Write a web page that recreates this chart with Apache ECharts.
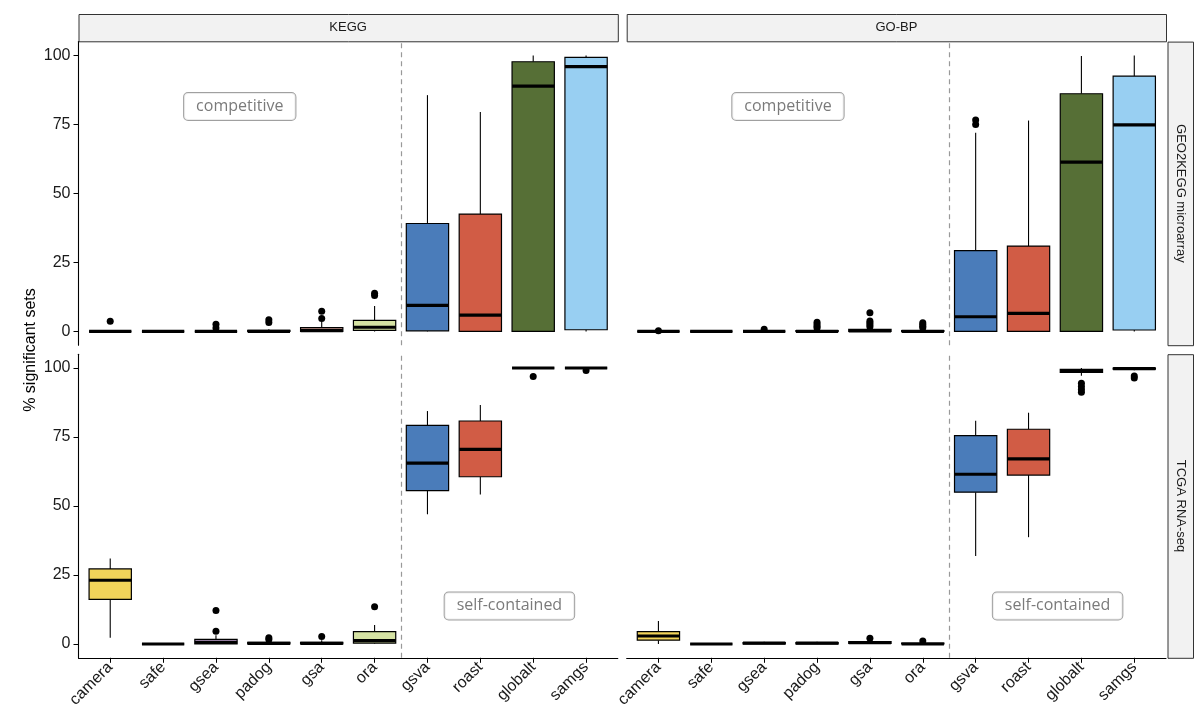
<!DOCTYPE html>
<html><head><meta charset="utf-8">
<script src="https://cdn.jsdelivr.net/npm/echarts@6/dist/echarts.min.js"></script>
<style>html,body{margin:0;padding:0;background:#fff}#c{width:1200px;height:722px}</style>
</head><body><div id="c"></div>
<script>
const categories = ['camera','safe','gsea','padog','gsa','ora','gsva','roast','globalt','samgs'];
const colors = ['#F1D35A','#E8A75C','#C6A6D4','#A8D5BA','#C4968C','#D6E3A4','#4A7CBA','#D15C45','#566F36','#98CFF2'];
const colLabels = ['KEGG','GO-BP'];
const rowLabels = ['GEO2KEGG microarray','TCGA RNA-seq'];
const yTicks = [0,25,50,75,100];
const yTitle = '% significant sets';
const topNote = 'competitive';
const bottomNote = 'self-contained';
const topNotePos = [2.45, 81.5];
const bottomNotePos = [7.55, 13.8];
const divider = 5.5;

// box stats per category: [min, q1, median, q3, max]
const keggMicroBoxes = [
  [0,0,0,0,0],[0,0,0,0,0],[0,0,0,0,0],[0,0,0,0.4,0.8],[0,0,0.3,1.4,3.6],
  [0,0.4,1.5,4.0,9.2],[0,0.2,9.4,39.1,85.6],[0,0,5.9,42.5,79.5],[0,0,88.9,97.7,100],[0,0.6,95.9,99.3,100]
];
const keggMicroOutliers = [[0,3.7],[2,2.6],[2,1.2],[3,4.2],[3,3.2],[4,4.7],[4,7.3],[5,13.0],[5,13.8]];

const gobpMicroBoxes = [
  [0,0,0,0,0],[0,0,0,0,0],[0,0,0,0,0.3],[0,0,0,0.3,0.6],[0,0,0.2,0.7,1.2],
  [0,0,0,0.3,0.7],[0,0,5.3,29.3,72],[0,0,6.5,30.9,76.4],[0,0,61.3,86.1,99.8],[0,0.5,74.8,92.5,100]
];
const gobpMicroOutliers = [[0,0.2],[2,0.8],[3,1.2],[3,1.8],[3,2.5],[3,3.3],[4,1.7],[4,2.4],[4,3.1],[4,3.8],[4,6.8],[5,1.3],[5,1.9],[5,2.5],[5,3.1],[6,75],[6,76.6]];

const keggTcgaBoxes = [
  [2.3,16.2,23.1,27.2,31.0],[0,0,0,0,0],[0,0,0.6,1.7,3.2],[0,0,0.2,0.6,1.2],[0,0,0.2,0.6,1.4],
  [0,0.3,1.2,4.5,6.9],[47.0,55.6,65.5,79.2,84.4],[54.2,60.6,70.5,80.8,86.6],[99.6,100,100,100,100],[99.6,100,100,100,100]
];
const keggTcgaOutliers = [[2,4.6],[2,12.1],[3,1.6],[3,2.3],[4,2.7],[5,13.5],[8,96.9],[9,99.1]];

const gobpTcgaBoxes = [
  [0,1.4,2.9,4.5,8.3],[0,0,0,0,0],[0,0,0.3,0.5,0.8],[0,0,0.3,0.5,0.8],[0,0.2,0.5,0.9,1.5],
  [0,0,0,0.3,0.6],[31.9,55.0,61.5,75.5,80.9],[38.7,61.2,67.1,77.8,83.8],[97.2,98.4,99.0,99.5,100],[99.2,99.6,99.8,100,100]
];
const gobpTcgaOutliers = [[4,2.1],[5,1.1],[8,91.2],[8,92.2],[8,93.3],[8,94.5],[9,96.4],[9,97.1]];

const panels = [
  {boxes: keggMicroBoxes, outliers: keggMicroOutliers, col: 0, row: 0},
  {boxes: gobpMicroBoxes, outliers: gobpMicroOutliers, col: 1, row: 0},
  {boxes: keggTcgaBoxes, outliers: keggTcgaOutliers, col: 0, row: 1},
  {boxes: gobpTcgaBoxes, outliers: gobpTcgaOutliers, col: 1, row: 1}
];

// layout
const colLeft = [78.5, 626.7];
const panelW = 539.3;
const rowTop = [41.6, 354.2];
const panelH = 303.6;
const stripTop = 14, stripH = 27.3;
const rStripLeft = 1167.5, rStripW = 25.5;
const tickFont = 'Liberation Sans, Arial, sans-serif';

function renderBox(params, api) {
  const x = api.value(0);
  const p = api.coord([x, api.value(1)]);
  const cx = p[0], yLo = p[1];
  const yQ1 = api.coord([x, api.value(2)])[1];
  const yMd = api.coord([x, api.value(3)])[1];
  const yQ3 = api.coord([x, api.value(4)])[1];
  const yHi = api.coord([x, api.value(5)])[1];
  const w = api.size([0.8, 0])[0];
  return {type: 'group', children: [
    {type: 'line', shape: {x1: cx, y1: yLo, x2: cx, y2: yQ1}, style: {stroke: '#000', lineWidth: 1.1}},
    {type: 'line', shape: {x1: cx, y1: yQ3, x2: cx, y2: yHi}, style: {stroke: '#000', lineWidth: 1.1}},
    {type: 'rect', shape: {x: cx - w / 2, y: yQ3, width: w, height: Math.max(yQ1 - yQ3, 0)},
      style: {fill: colors[x], stroke: '#000', lineWidth: 1.2}},
    {type: 'line', shape: {x1: cx - w / 2, y1: yMd, x2: cx + w / 2, y2: yMd}, style: {stroke: '#000', lineWidth: 3.2}}
  ]};
}

const grid = [], xAxis = [], yAxis = [], series = [];
panels.forEach((pn, i) => {
  grid.push({left: colLeft[pn.col], top: rowTop[pn.row], width: panelW, height: panelH});
  const showX = pn.row === 1, showY = pn.col === 0;
  xAxis.push({
    type: 'value', gridIndex: i, min: -0.6, max: 9.6,
    splitLine: {show: false},
    axisLine: {show: showX, onZero: false, lineStyle: {color: '#000', width: 1.1}},
    axisTick: {show: showX, customValues: categories.map((c, k) => k), length: 5, lineStyle: {color: '#000'}},
    axisLabel: {show: showX, customValues: categories.map((c, k) => k), rotate: 45, margin: 7,
      formatter: v => categories[Math.round(v)], fontFamily: tickFont, fontSize: 16, color: '#1a1a1a'}
  });
  yAxis.push({
    type: 'value', gridIndex: i, min: -5, max: 105,
    splitLine: {show: false},
    axisLine: {show: showY, onZero: false, lineStyle: {color: '#000', width: 1.1}},
    axisTick: {show: showY, customValues: yTicks, length: 5, lineStyle: {color: '#000'}},
    axisLabel: {show: showY, customValues: yTicks, margin: 8, fontFamily: tickFont, fontSize: 16, color: '#1a1a1a'}
  });
  series.push({
    type: 'custom', xAxisIndex: i, yAxisIndex: i, renderItem: renderBox,
    encode: {x: 0, y: [1, 2, 3, 4, 5]},
    data: pn.boxes.map((b, k) => [k].concat(b)),
    markLine: {silent: true, symbol: 'none', label: {show: false},
      lineStyle: {color: '#999', type: [5, 4], width: 1.2},
      data: [{xAxis: divider}]},
    z: 2
  });
  series.push({
    type: 'scatter', xAxisIndex: i, yAxisIndex: i, symbolSize: 7,
    itemStyle: {color: '#000', opacity: 1}, data: pn.outliers, z: 3
  });
  const note = pn.row === 0 ? topNote : bottomNote;
  const pos = pn.row === 0 ? topNotePos : bottomNotePos;
  series.push({
    type: 'scatter', xAxisIndex: i, yAxisIndex: i, symbolSize: 1, silent: true,
    itemStyle: {color: 'rgba(0,0,0,0)'}, data: [pos],
    label: {show: true, position: 'inside', formatter: note, fontFamily: 'Open Sans, sans-serif',
      fontSize: 16, color: '#595959', backgroundColor: '#fff', borderColor: '#888', borderWidth: 1,
      borderRadius: 4, padding: [6, 12, 5, 12]},
    z: 4
  });
});

const graphic = [];
colLabels.forEach((t, c) => {
  graphic.push({type: 'rect', left: colLeft[c], top: stripTop,
    shape: {width: panelW, height: stripH}, style: {fill: '#F2F2F2', stroke: '#333', lineWidth: 1}});
  graphic.push({type: 'text', x: colLeft[c] + panelW / 2, y: stripTop + stripH / 2,
    style: {text: t, fill: '#1A1A1A', font: '13px Liberation Sans, Arial, sans-serif', align: 'center', verticalAlign: 'middle'}});
});
rowLabels.forEach((t, r) => {
  graphic.push({type: 'rect', left: rStripLeft, top: rowTop[r],
    shape: {width: rStripW, height: panelH}, style: {fill: '#F2F2F2', stroke: '#333', lineWidth: 1}});
  graphic.push({type: 'text', x: rStripLeft + rStripW / 2, y: rowTop[r] + panelH / 2, rotation: -Math.PI / 2,
    style: {text: t, fill: '#1A1A1A', font: '13px Liberation Sans, Arial, sans-serif', align: 'center', verticalAlign: 'middle'}});
});
graphic.push({type: 'text', x: 31, y: 350, rotation: Math.PI / 2,
  style: {text: yTitle, fill: '#000', font: '16px Liberation Sans, Arial, sans-serif', align: 'center', verticalAlign: 'middle'}});

const chart = echarts.init(document.getElementById('c'), null, {renderer: 'canvas'});
chart.setOption({animation: false, backgroundColor: '#fff', grid, xAxis, yAxis, series, graphic});
</script></body></html>
